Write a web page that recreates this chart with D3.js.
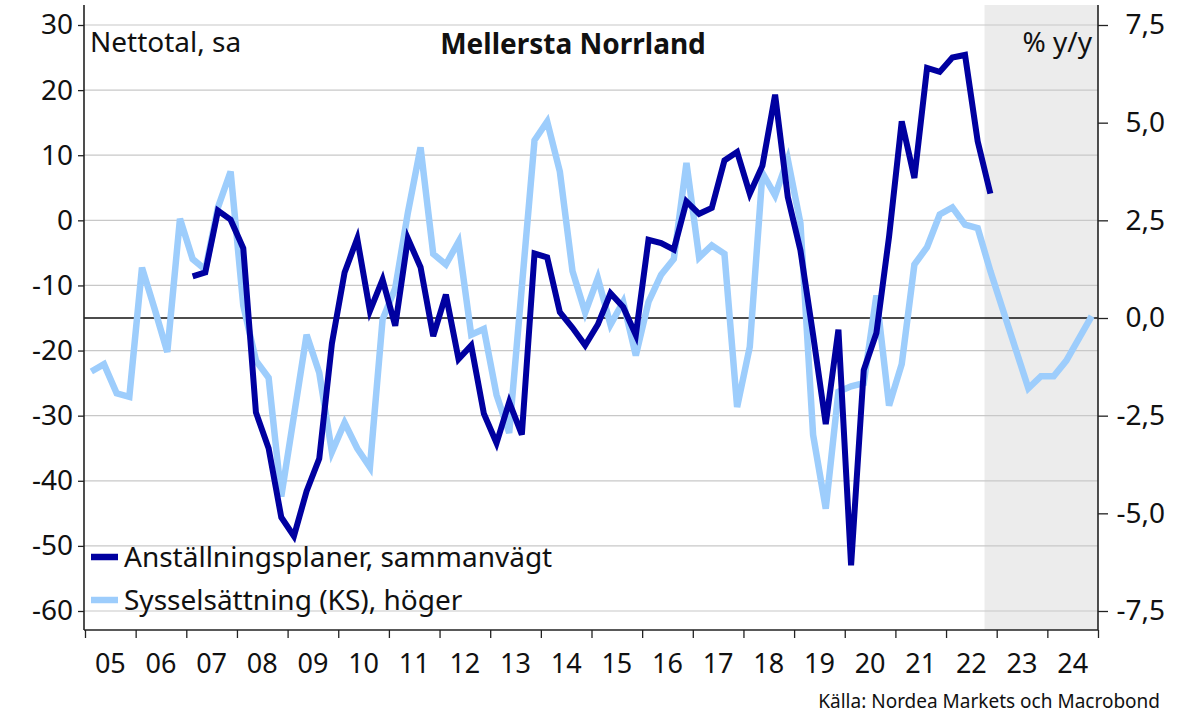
<!DOCTYPE html>
<html>
<head>
<meta charset="utf-8">
<script src="https://cdn.jsdelivr.net/npm/d3@7"></script>
<style>
  body { margin: 0; background: #fff; }
  svg text { font-family: "Noto Sans", sans-serif; fill: #111; }
</style>
</head>
<body>
<div id="chart"></div>
<script>
// quarterly data, first quarter of each series given by start year
var planStart = 2007;
var planValues = [
  -8.6, -8.0, 1.5, 0.1,
  -4.3, -29.5, -35.0, -45.6,
  -48.5, -41.6, -36.6, -18.9,
  -8.0, -2.8, -13.9, -9.1,
  -16.2, -2.8, -7.2, -17.8,
  -11.4, -21.3, -19.2, -29.7,
  -34.2, -27.9, -32.9, -5.1,
  -5.7, -14.1, -16.5, -19.2,
  -16.0, -11.2, -13.3, -17.6,
  -3.0, -3.5, -4.5, 2.9,
  1.0, 1.9, 9.2, 10.5,
  4.1, 8.4, 19.3, 3.6,
  -4.6, -17.6, -31.3, -16.8,
  -53.0, -23.0, -17.3, -2.5,
  15.2, 6.5, 23.4, 22.8,
  25.0, 25.4, 12.1, 4.1
];

var empStart = 2005;
var empValues = [
  -1.37, -1.18, -1.93, -2.02,
  1.29, 0.23, -0.87, 2.54,
  1.51, 1.24, 2.83, 3.75,
  0.32, -1.09, -1.53, -4.57,
  -2.50, -0.43, -1.40, -3.43,
  -2.68, -3.34, -3.82, -0.04,
  0.76, 2.70, 4.37, 1.64,
  1.37, 1.95, -0.43, -0.28,
  -1.97, -2.94, 0.80, 4.55,
  5.03, 3.75, 1.20, 0.14,
  1.02, -0.17, 0.41, -0.96,
  0.41, 1.11, 1.51, 3.97,
  1.55, 1.86, 1.64, -2.28,
  -0.74, 3.71, 3.14, 4.06,
  2.43, -2.99, -4.88, -1.89,
  -1.75, -1.67, 0.58, -2.24,
  -1.18, 1.37, 1.81, 2.65,
  2.83, 2.39, 2.30, 1.20,
  0.20, -0.80, -1.80, -1.49,
  -1.49, -1.09, -0.52, 0.05
];

var yearLabels = ["05","06","07","08","09","10","11","12","13","14","15","16","17","18","19","20","21","22","23","24"];
var leftTicks = [-60, -50, -40, -30, -20, -10, 0, 10, 20, 30];
var rightTicks = [-7.5, -5, -2.5, 0, 2.5, 5, 7.5];
var forecastFrom = 2022.76;

var labels = {
  title: "Mellersta Norrland",
  left: "Nettotal, sa",
  right: "% y/y",
  plan: "Anställningsplaner, sammanvägt",
  emp: "Sysselsättning (KS), höger",
  source: "Källa: Nordea Markets och Macrobond"
};

var svgWidth = 1189;
var svgHeight = 714;

var plot = { left: 84, right: 1098, top: 5, bottom: 630 };

var svg = d3.select("#chart")
  .append("svg")
  .attr("width", svgWidth)
  .attr("height", svgHeight);

// scales
var x = d3.scaleLinear().domain([2005, 2025]).range([85, 1098]);
var yLeft = d3.scaleLinear().domain([-60, 30]).range([611, 25]);
var yRight = d3.scaleLinear().domain([-7.5, 7.5]).range([611, 25]);

function toPoints(start, values) {
  return values.map(function(v, i) {
    return { t: start + (i + 0.5) / 4, v: v };
  });
}
var planData = toPoints(planStart, planValues);
var empData = toPoints(empStart, empValues);

// forecast shading
svg.append("rect")
  .attr("x", x(forecastFrom))
  .attr("y", plot.top)
  .attr("width", plot.right - x(forecastFrom))
  .attr("height", plot.bottom - plot.top)
  .attr("fill", "#ececec");

// grid
svg.append("g").selectAll("line")
  .data(leftTicks)
  .enter()
  .append("line")
  .attr("x1", plot.left)
  .attr("x2", plot.right)
  .attr("y1", d => yLeft(d))
  .attr("y2", d => yLeft(d))
  .attr("stroke", "#c8c8c8")
  .attr("stroke-width", 1.2);

// zero line of right axis
svg.append("line")
  .attr("x1", plot.left)
  .attr("x2", plot.right)
  .attr("y1", yRight(0))
  .attr("y2", yRight(0))
  .attr("stroke", "#111")
  .attr("stroke-width", 1.3);

// axes
var leftAxis = d3.axisLeft(yLeft)
  .tickValues(leftTicks)
  .tickSize(6)
  .tickPadding(5)
  .tickFormat(d => String(d));

var rightAxis = d3.axisRight(yRight)
  .tickValues(rightTicks)
  .tickSize(10)
  .tickPadding(12)
  .tickFormat(d => d.toFixed(1).replace(".", ","));

var bottomAxis = d3.axisBottom(x)
  .tickValues(d3.range(2005, 2026))
  .tickSize(8)
  .tickFormat("");

var gl = svg.append("g")
  .attr("transform", `translate(${plot.left},0)`)
  .call(leftAxis);

var gr = svg.append("g")
  .attr("transform", `translate(${plot.right},0)`)
  .call(rightAxis);

var gb = svg.append("g")
  .attr("transform", `translate(0,${plot.bottom})`)
  .call(bottomAxis);

[gl, gr, gb].forEach(function(g) {
  g.select(".domain").remove();
  g.selectAll(".tick line").attr("stroke", "#222").attr("stroke-width", 1.3);
  g.selectAll("text")
    .style("font-family", "'Noto Sans', sans-serif")
    .style("font-size", "28px")
    .attr("fill", "#111");
});
gr.selectAll("text").attr("text-anchor", "end").attr("x", 67);

// axis lines
svg.append("line")
  .attr("x1", plot.left).attr("x2", plot.left)
  .attr("y1", plot.top).attr("y2", plot.bottom)
  .attr("stroke", "#222").attr("stroke-width", 1.6);
svg.append("line")
  .attr("x1", plot.right).attr("x2", plot.right)
  .attr("y1", plot.top).attr("y2", plot.bottom)
  .attr("stroke", "#222").attr("stroke-width", 1.6);
svg.append("line")
  .attr("x1", plot.left).attr("x2", plot.right)
  .attr("y1", plot.bottom).attr("y2", plot.bottom)
  .attr("stroke", "#222").attr("stroke-width", 1.6);

// year labels, centred in each year
svg.append("g").selectAll("text")
  .data(yearLabels)
  .enter()
  .append("text")
  .attr("x", (d, i) => x(2005 + i + 0.5))
  .attr("y", 673)
  .attr("text-anchor", "middle")
  .style("font-size", "27px")
  .text(d => d);

// lines
var empLine = d3.line()
  .x(d => x(d.t))
  .y(d => yRight(d.v));

var planLine = d3.line()
  .x(d => x(d.t))
  .y(d => yLeft(d.v));

svg.append("path")
  .datum(empData)
  .attr("d", empLine)
  .attr("fill", "none")
  .attr("stroke", "#9dcdfc")
  .attr("stroke-width", 6.5)
  .attr("stroke-linejoin", "miter");

svg.append("path")
  .datum(planData)
  .attr("d", planLine)
  .attr("fill", "none")
  .attr("stroke", "#0000a0")
  .attr("stroke-width", 6)
  .attr("stroke-linejoin", "miter");

// texts
svg.append("text")
  .attr("x", 90).attr("y", 52)
  .style("font-size", "28px")
  .text(labels.left);

svg.append("text")
  .attr("x", 573).attr("y", 54)
  .attr("text-anchor", "middle")
  .style("font-size", "28px")
  .style("font-weight", "bold")
  .text(labels.title);

svg.append("text")
  .attr("x", 1092).attr("y", 52)
  .attr("text-anchor", "end")
  .style("font-size", "28px")
  .text(labels.right);

// legend
var legend = [
  { name: labels.plan, color: "#0000a0", y: 557 },
  { name: labels.emp, color: "#9dcdfc", y: 600 }
];
var lg = svg.append("g").selectAll("g")
  .data(legend)
  .enter()
  .append("g");
lg.append("line")
  .attr("x1", 91).attr("x2", 118)
  .attr("y1", d => d.y).attr("y2", d => d.y)
  .attr("stroke", d => d.color)
  .attr("stroke-width", 6.5);
lg.append("text")
  .attr("x", 124)
  .attr("y", d => d.y + 10)
  .style("font-size", "28px")
  .text(d => d.name);

svg.append("text")
  .attr("x", 1160).attr("y", 708)
  .attr("text-anchor", "end")
  .style("font-size", "19px")
  .text(labels.source);
</script>
</body>
</html>
